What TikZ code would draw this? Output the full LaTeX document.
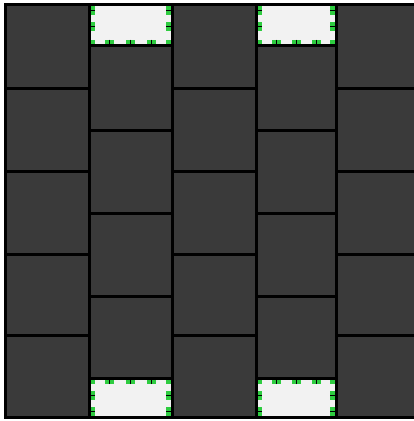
\documentclass[tikz,border=0pt]{standalone}
\definecolor{cellgray}{RGB}{58,58,58}
\definecolor{cellwhite}{RGB}{242,242,242}
\definecolor{mark}{RGB}{46,204,64}
\tikzset{
  gridline/.style={line width=3pt, black, line cap=rect},
  greenmark/.style={fill=mark, draw=none},
  tickmark/.style={line width=0.9pt, black}
}
\begin{document}
\begin{tikzpicture}[x=1pt,y=-1pt]
\useasboundingbox (0,0) rectangle (414,421);
\fill[white] (0,0) rectangle (414,421);
\begin{scope}
\clip (0,0) rectangle (414,421);
% dark field
\fill[cellgray] (5,4.5) rectangle (420,417.5);
% white cells
\foreach \xa/\xb in {89/172,256/336}{
  \fill[cellwhite] (\xa,4.5) rectangle (\xb,45.5);
  \fill[cellwhite] (\xa,378) rectangle (\xb,417.5);
}
% grid lines
\draw[gridline] (5,4.5) rectangle (420,417.5);
\foreach \x in {89,172,256,336}{
  \draw[gridline] (\x,4.5) -- (\x,417.5);
}
\foreach \xa/\xb in {5/89,172/256,336/420}{
  \foreach \y in {88,171.5,254,335.5}{
    \draw[gridline] (\xa,\y) -- (\xb,\y);
  }
}
\foreach \xa/\xb in {89/172,256/336}{
  \foreach \y in {45.5,130,213,296,378}{
    \draw[gridline] (\xa,\y) -- (\xb,\y);
  }
}
% green marks on the white cells
\foreach \xa/\xb/\yo/\yi/\s in {89/172/4.5/45.5/1, 256/336/4.5/45.5/1, 89/172/417.5/378/-1, 256/336/417.5/378/-1}{
  % side edges: pairs around ticks at 6 and 22 from the outer edge
  \foreach \d in {6,22}{
    \fill[greenmark] ({\xa+1.5},{\yo+\s*(\d-4.5)}) rectangle ({\xa+6},{\yo+\s*(\d+4.5)});
    \fill[greenmark] ({\xb-6},{\yo+\s*(\d-4.5)}) rectangle ({\xb-1.5},{\yo+\s*(\d+4.5)});
    \draw[tickmark] (\xa,{\yo+\s*\d}) -- ({\xa+6},{\yo+\s*\d});
    \draw[tickmark] (\xb,{\yo+\s*\d}) -- ({\xb-6},{\yo+\s*\d});
  }
  % inner corners
  \fill[greenmark] ({\xa+1.5},{\yi-\s*6}) rectangle ({\xa+6},{\yi-\s*1.5});
  \fill[greenmark] ({\xb-6},{\yi-\s*6}) rectangle ({\xb-1.5},{\yi-\s*1.5});
  % inner edge: pairs at quarter points
  \foreach \k in {1,2,3}{
    \fill[greenmark] ({\xa+\k*(\xb-\xa)/4-4.5},{\yi-\s*6}) rectangle ({\xa+\k*(\xb-\xa)/4+4.5},{\yi-\s*1.5});
    \draw[tickmark] ({\xa+\k*(\xb-\xa)/4},{\yi-\s*6}) -- ({\xa+\k*(\xb-\xa)/4},\yi);
  }
}
\end{scope}
\end{tikzpicture}
\end{document}
